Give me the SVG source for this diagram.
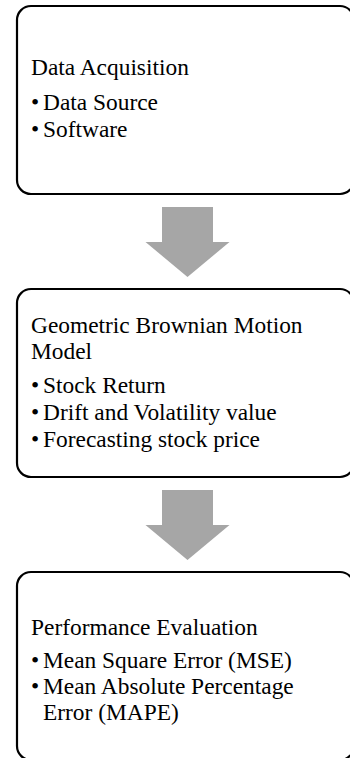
<svg xmlns="http://www.w3.org/2000/svg" width="350" height="758" viewBox="0 0 350 758">
<style>
.box{fill:#fff;stroke:#000;stroke-width:2.2}
.t{font-family:"Liberation Serif","Times New Roman",serif;font-size:23.4px;fill:#000}
.arrow{fill:#a6a6a6}
</style>
<rect width="350" height="758" fill="#fff"/>
<g id="connectors">
<polygon class="arrow" points="162,207 213,207 213,242 229.5,242 187.5,277 145.5,242 162,242"/>
<polygon class="arrow" points="162,490 213,490 213,525 229.5,525 187.5,560 145.5,525 162,525"/>
</g>
<g id="node1">
<rect class="box" x="17" y="6" width="337" height="188" rx="14"/>
<text class="t" x="31" y="75">Data Acquisition</text>
<text class="t" x="31" y="110">•</text><text class="t" x="43" y="110">Data Source</text>
<text class="t" x="31" y="137">•</text><text class="t" x="43" y="137">Software</text>
</g>
<g id="node2">
<rect class="box" x="17" y="289" width="337" height="188" rx="14"/>
<text class="t" x="31" y="333">Geometric Brownian Motion</text>
<text class="t" x="31" y="359">Model</text>
<text class="t" x="31" y="393">•</text><text class="t" x="43" y="393">Stock Return</text>
<text class="t" x="31" y="420">•</text><text class="t" x="43" y="420">Drift and Volatility value</text>
<text class="t" x="31" y="447">•</text><text class="t" x="43" y="447">Forecasting stock price</text>
</g>
<g id="node3">
<rect class="box" x="17" y="572" width="337" height="188" rx="14"/>
<text class="t" x="31" y="635">Performance Evaluation</text>
<text class="t" x="31" y="668">•</text><text class="t" x="43" y="668">Mean Square Error (MSE)</text>
<text class="t" x="31" y="694">•</text><text class="t" x="43" y="694">Mean Absolute Percentage</text>
<text class="t" x="43" y="720">Error (MAPE)</text>
</g>
</svg>
